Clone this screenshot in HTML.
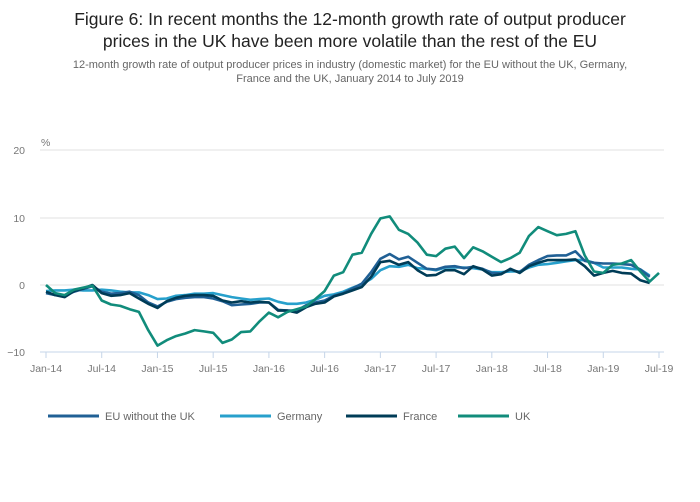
<!DOCTYPE html>
<html><head><meta charset="utf-8"><style>
body{margin:0;background:#fff;width:700px;height:502px;overflow:hidden;font-family:"Liberation Sans",sans-serif}
svg{display:block}
</style></head><body>
<svg id="s" width="700" height="502" xmlns="http://www.w3.org/2000/svg">
<text x="350" y="25" text-anchor="middle" font-size="17.5" fill="#222">Figure 6: In recent months the 12-month growth rate of output producer</text>
<text x="350" y="47" text-anchor="middle" font-size="17.5" fill="#222">prices in the UK have been more volatile than the rest of the EU</text>
<text x="350" y="68" text-anchor="middle" font-size="11" fill="#666">12-month growth rate of output producer prices in industry (domestic market) for the EU without the UK, Germany,</text>
<text x="350" y="82" text-anchor="middle" font-size="11" fill="#666">France and the UK, January 2014 to July 2019</text>
<g stroke="#e0e0e0" stroke-width="1">
<line x1="40" x2="664" y1="150" y2="150"/><line x1="40" x2="664" y1="218" y2="218"/><line x1="40" x2="664" y1="285" y2="285"/>
</g>
<line x1="40" x2="664" y1="352" y2="352" stroke="#c5d5e8"/>
<g font-size="10.5" fill="#777" text-anchor="end">
<text x="25" y="154">20</text><text x="25" y="222">10</text><text x="25" y="289">0</text><text x="25" y="356">−10</text>
</g>
<text x="41" y="146" font-size="10.5" fill="#777">%</text>
<g id="ticks" font-size="10.5" fill="#777" text-anchor="middle"></g>
<g id="lines" fill="none" stroke-width="2.6" stroke-linejoin="round"></g>
<g font-size="11" fill="#666">
<line x1="48" x2="99" y1="416" y2="416" stroke="#206095" stroke-width="3"/><text x="105" y="420">EU without the UK</text>
<line x1="220" x2="271" y1="416" y2="416" stroke="#27a0cc" stroke-width="3"/><text x="277" y="420">Germany</text>
<line x1="346" x2="397" y1="416" y2="416" stroke="#003c57" stroke-width="3"/><text x="403" y="420">France</text>
<line x1="458" x2="509" y1="416" y2="416" stroke="#118c7b" stroke-width="3"/><text x="515" y="420">UK</text>
</g>
</svg>
<script>
var NS="http://www.w3.org/2000/svg";
function X(i){return 46+i*(659-46)/66;}
function Y(v){return 285-v*6.73;}
var labs=["Jan-14","Jul-14","Jan-15","Jul-15","Jan-16","Jul-16","Jan-17","Jul-17","Jan-18","Jul-18","Jan-19","Jul-19"];
var tg=document.getElementById("ticks");
labs.forEach(function(l,k){var x=X(k*6);
var ln=document.createElementNS(NS,"line");ln.setAttribute("x1",x);ln.setAttribute("x2",x);ln.setAttribute("y1",352);ln.setAttribute("y2",358);ln.setAttribute("stroke","#c5d5e8");tg.appendChild(ln);
var t=document.createElementNS(NS,"text");t.setAttribute("x",x);t.setAttribute("y",372);t.textContent=l;tg.appendChild(t);});
var D={
"#27a0cc":[-0.9,-0.8,-0.8,-0.7,-0.8,-0.8,-0.7,-0.8,-1.0,-1.1,-1.1,-1.5,-2.1,-2.0,-1.6,-1.5,-1.3,-1.3,-1.2,-1.5,-1.8,-2.0,-2.2,-2.1,-2.0,-2.5,-2.8,-2.8,-2.6,-2.2,-1.6,-1.4,-1.0,-0.4,0.1,0.9,2.2,2.8,2.7,3.0,2.5,2.4,2.2,2.6,2.6,2.6,2.5,2.3,1.9,1.9,2.0,2.0,2.6,3.0,3.1,3.3,3.5,3.7,3.7,3.3,2.6,2.6,2.6,2.4,2.3,1.4],
"#206095":[-1.2,-1.5,-1.6,-1.0,-0.6,-0.2,-1.0,-1.3,-1.2,-1.0,-1.5,-2.6,-3.2,-2.5,-2.1,-1.9,-1.8,-1.8,-2.0,-2.4,-3.0,-2.9,-2.8,-2.6,-2.6,-3.7,-3.8,-3.8,-3.0,-2.6,-2.3,-1.6,-1.2,-0.5,0.2,1.9,3.9,4.6,3.8,4.2,3.3,2.4,2.3,2.7,2.8,2.5,2.7,2.4,1.8,1.7,2.3,1.9,3.0,3.7,4.3,4.4,4.4,5.0,3.6,3.3,3.2,3.2,3.1,3.0,2.3,1.2],
"#003c57":[-1.0,-1.5,-1.8,-0.9,-0.5,0,-1.2,-1.6,-1.5,-1.2,-2.0,-2.8,-3.4,-2.4,-1.9,-1.6,-1.5,-1.5,-1.6,-2.3,-2.6,-2.4,-2.6,-2.5,-2.6,-3.8,-3.8,-4.1,-3.3,-2.8,-2.6,-1.7,-1.3,-0.8,-0.3,1.2,3.4,3.6,3.0,3.4,2.2,1.4,1.5,2.2,2.2,1.6,2.8,2.3,1.4,1.6,2.4,1.8,2.8,3.3,3.7,3.7,3.7,3.8,2.8,1.4,1.8,2.1,1.8,1.7,0.7,0.3],
"#118c7b":[0,-1.2,-1.5,-0.7,-0.4,-0.1,-2.3,-2.9,-3.1,-3.6,-4.0,-6.7,-9.0,-8.2,-7.6,-7.2,-6.7,-6.9,-7.1,-8.6,-8.1,-7.0,-6.9,-5.4,-4.1,-4.8,-4.0,-3.6,-3.2,-2.1,-0.9,1.4,1.9,4.5,4.8,7.6,9.9,10.2,8.2,7.6,6.3,4.5,4.3,5.4,5.7,4.0,5.6,5.0,4.2,3.4,4.0,4.8,7.3,8.6,8.0,7.4,7.6,8.0,4.4,2.0,1.8,3.0,3.2,3.7,2.0,0.5,1.8]};
var lg=document.getElementById("lines");
for(var c in D){var p=D[c].map(function(v,i){return X(i).toFixed(1)+","+Y(v).toFixed(1)}).join(" ");
var pl=document.createElementNS(NS,"polyline");pl.setAttribute("points",p);pl.setAttribute("stroke",c);lg.appendChild(pl);}
</script>
</body></html>
